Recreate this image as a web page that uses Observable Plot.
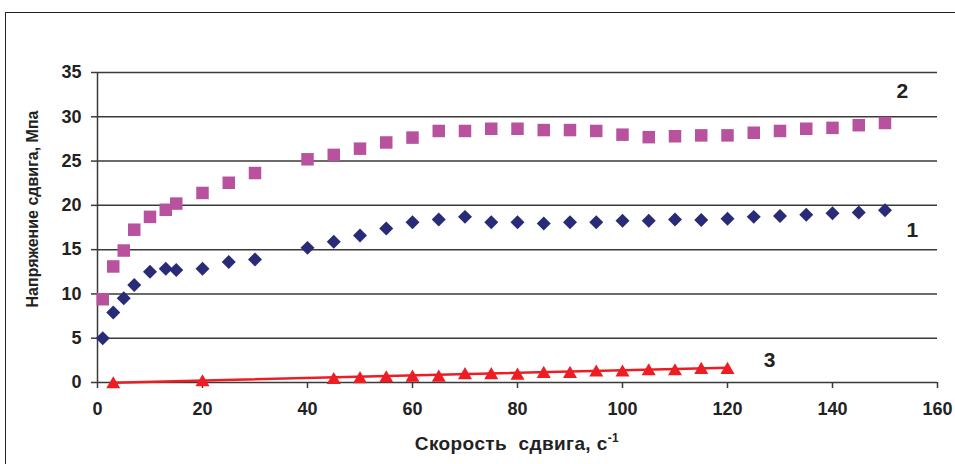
<!DOCTYPE html>
<html><head><meta charset="utf-8">
<script src="https://cdn.jsdelivr.net/npm/d3@7"></script>
<script src="https://cdn.jsdelivr.net/npm/@observablehq/plot@0.6"></script>
<style>
body{margin:0;background:#fff;}
#wrap{position:relative;width:955px;height:464px;overflow:hidden;background:#fff;}
#frame{position:absolute;left:5px;top:12px;width:960px;height:480px;border:1.5px solid #222;box-sizing:border-box;pointer-events:none}
</style></head><body><div id="wrap"><div id="frame"></div></div>
<script>
// Shear rate (x) for series 1 and 2
const rate12 = [1,3,5,7,10,13,15,20,25,30,40,45,50,55,60,65,70,75,80,85,90,95,100,105,110,115,120,125,130,135,140,145,150];
// Series 1 (diamonds)
const stress1 = [5.0,7.9,9.5,11.0,12.5,12.85,12.7,12.85,13.6,13.9,15.2,15.9,16.6,17.4,18.1,18.4,18.7,18.1,18.1,17.95,18.1,18.1,18.25,18.25,18.4,18.35,18.5,18.7,18.8,18.95,19.1,19.2,19.45];
// Series 2 (squares)
const stress2 = [9.4,13.1,14.9,17.25,18.7,19.5,20.2,21.4,22.55,23.65,25.2,25.7,26.4,27.1,27.65,28.4,28.4,28.65,28.65,28.5,28.5,28.4,27.98,27.7,27.8,27.9,27.9,28.2,28.4,28.65,28.75,29.05,29.3];
// Series 3 (triangles)
const rate3 = [3,20,45,50,55,60,65,70,75,80,85,90,95,100,105,110,115,120];
const stress3 = [0.02,0.25,0.5,0.6,0.7,0.78,0.78,1.05,1.05,1.0,1.2,1.2,1.35,1.35,1.5,1.5,1.65,1.65];

const xTicks = [0,20,40,60,80,100,120,140,160];
const yTicks = [0,5,10,15,20,25,30,35];

const seriesLabels = ["1","2","3"];
const labelX = [155.2,153.3,128];
const labelY = [17.2,32.9,2.55];

const xTitle = "Скорость  сдвига, с";
const xTitleSup = "-1";
const yTitle = "Напряжение сдвига, Мпа";

const s1 = rate12.map((x,i)=>({x, y: stress1[i]}));
const s2 = rate12.map((x,i)=>({x, y: stress2[i]}));
const s3 = rate3.map((x,i)=>({x, y: stress3[i]}));
const lab = seriesLabels.map((t,i)=>({t, x: labelX[i], y: labelY[i]}));

const font = "'Liberation Sans', Arial, sans-serif";
const plot = Plot.plot({
  width: 955, height: 464,
  marginLeft: 97, marginRight: 18, marginTop: 72, marginBottom: 82,
  style: {fontFamily: font, fontWeight: "bold", color: "#222", background: "transparent", overflow: "visible"},
  x: {domain: [0,160]},
  y: {domain: [0,35]},
  marks: [
    Plot.gridY(yTicks, {stroke: "#3a3a3a", strokeOpacity: 1, strokeWidth: 1.5}),
    Plot.ruleX([0], {y1: 0, y2: 35, stroke: "#3a3a3a", strokeWidth: 1.5}),
    Plot.axisX(xTicks, {tickSize: 6, tickPadding: 14, fontSize: 18, fontWeight: "bold", stroke: "#3a3a3a", strokeWidth: 1.5, label: null}),
    Plot.axisY(yTicks, {tickSize: 6, tickPadding: 10, fontSize: 18, fontWeight: "bold", stroke: "#3a3a3a", strokeWidth: 1.5, label: null}),
    Plot.linearRegressionY(s3, {x: "x", y: "y", stroke: "#EE1D23", strokeWidth: 2.5, ci: 0}),
    Plot.dot(s2, {x: "x", y: "y", symbol: "square", r: 7.05, fill: "#B9529E", stroke: null}),
    Plot.dot(s1, {x: "x", y: "y", symbol: "diamond2", r: 6.3, fill: "#2A2B77", stroke: null}),
    Plot.dot(s3, {x: "x", y: "y", symbol: "triangle", r: 5.2, dy: 2, fill: "#EE1D23", stroke: null}),
    Plot.text(lab, {x: "x", y: "y", text: "t", fontSize: 21, fontWeight: "bold", fill: "#222"})
  ]
});
document.getElementById("wrap").insertBefore(plot, document.getElementById("frame"));

const svg = d3.select(plot);
const xr = plot.scale("x").range;
const yr = plot.scale("y").range;
const xt = svg.append("text")
  .attr("x", (xr[0]+xr[1])/2).attr("y", 450)
  .attr("text-anchor", "middle")
  .attr("font-size", 19).attr("letter-spacing", 0.4).attr("font-weight", "bold").attr("fill", "#222")
  .style("white-space", "pre");
xt.append("tspan").text(xTitle);
xt.append("tspan").attr("dy", -8).attr("font-size", 12).text(xTitleSup);

svg.append("text")
  .attr("transform", `translate(38,${(yr[0]+yr[1])/2 - 18}) rotate(-90)`)
  .attr("text-anchor", "middle")
  .attr("font-size", 16).attr("font-weight", "bold").attr("fill", "#222")
  .text(yTitle);
</script>
</body></html>
